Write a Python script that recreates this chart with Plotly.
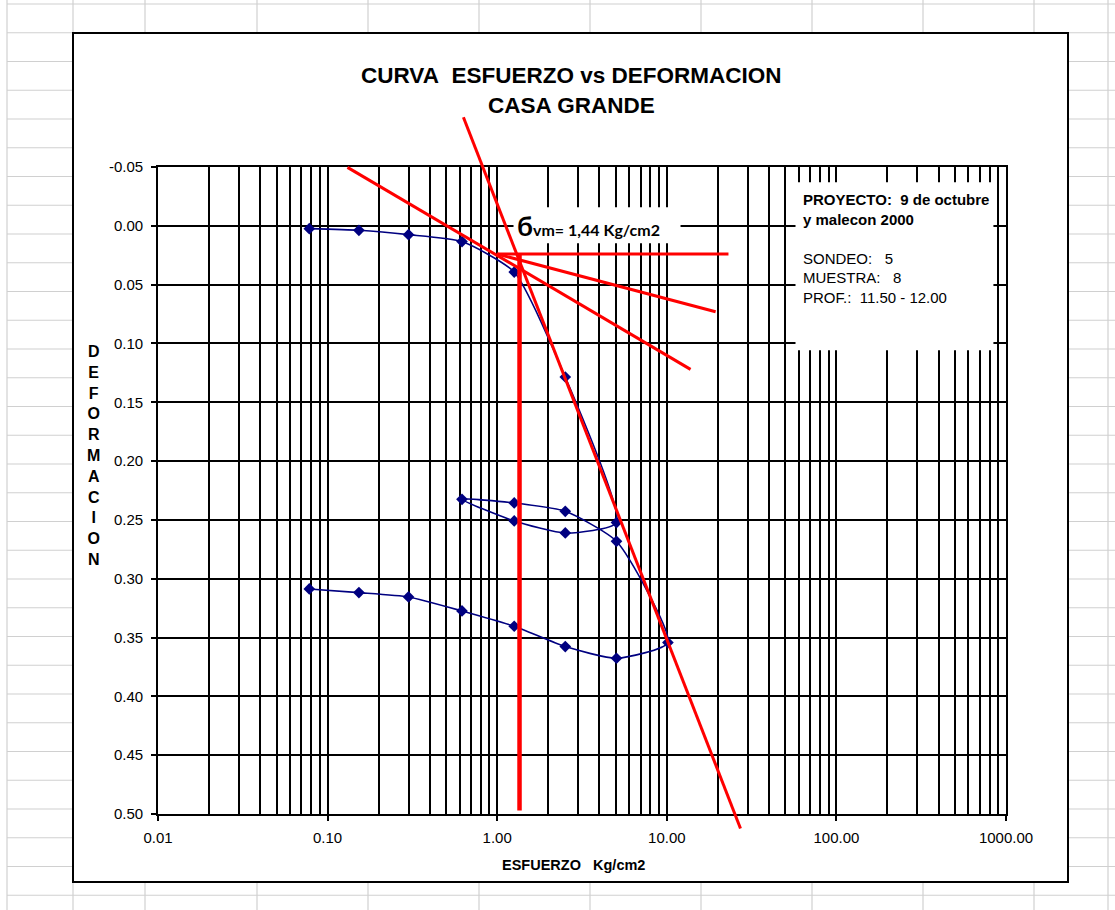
import math
import plotly.graph_objects as go

# ---------------- data ----------------
stress = [0.078, 0.153, 0.30, 0.62, 1.26, 2.52, 5.05, 2.52, 1.26, 0.62, 1.26,
          2.52, 5.05, 10.15, 5.05, 2.52, 1.26, 0.62, 0.30, 0.153, 0.078]
deformation = [0.0024, 0.0038, 0.0075, 0.0134, 0.0393, 0.1285, 0.2523, 0.2611,
               0.2509, 0.2325, 0.2356, 0.2427, 0.2682, 0.3543, 0.3676, 0.3577,
               0.3404, 0.3274, 0.3155, 0.3118, 0.3087]

x_tick_vals = [0.01, 0.1, 1, 10, 100, 1000]
x_tick_text = ["0.01", "0.10", "1.00", "10.00", "100.00", "1000.00"]
y_tick_vals = [-0.05, 0.00, 0.05, 0.10, 0.15, 0.20, 0.25, 0.30, 0.35, 0.40, 0.45, 0.50]
y_tick_text = ["-0.05", "0.00", "0.05", "0.10", "0.15", "0.20", "0.25", "0.30",
               "0.35", "0.40", "0.45", "0.50"]
x_minor_vals = [m * 10.0 ** e for e in range(-2, 3) for m in range(2, 10)]

# Casagrande construction lines (data units: stress, deformation)
virgin_x, virgin_y = [0.632, 27.2], [-0.0923, 0.5123]
tangent_x, tangent_y = [0.131, 13.8], [-0.0497, 0.122]
horiz_x, horiz_y = [1.0, 23.1], [0.024, 0.024]
bisector_x, bisector_y = [1.0, 19.4], [0.024, 0.073]
sigma_x, sigma_y = [1.354, 1.354], [0.024, 0.497]

title_lines = ["CURVA\u00a0 ESFUERZO vs DEFORMACION", "CASA GRANDE"]
x_title = "ESFUERZO\u00a0\u00a0\u00a0Kg/cm2"
y_title = "DEFORMACION"
sigma_text = "vm= 1,44 Kg/cm2"
info_bold = ["PROYECTO:\u00a0 9 de octubre", "y malecon 2000"]
info_plain = ["SONDEO:\u00a0\u00a0 5", "MUESTRA:\u00a0\u00a0 8", "PROF.:\u00a0 11.50 - 12.00"]

# ---------------- geometry ----------------
W, H = 1115, 910
L, R, T, B = 158, 109, 167, 96
PW, PH = W - L - R, H - T - B
X_RANGE = [-2, 3]
Y_RANGE = [0.50, -0.05]


def dx(v):
    return (math.log10(v) - X_RANGE[0]) / (X_RANGE[1] - X_RANGE[0])


def dy(v):
    return (v - Y_RANGE[0]) / (Y_RANGE[1] - Y_RANGE[0])


def px(x):
    return (x - L) / PW


def py(y):
    return (H - B - y) / PH


FONT = "Liberation Sans, Arial, sans-serif"
shapes = []

# spreadsheet background grid
GRAY = "#d0d0d0"
cols = [7, 73, 145, 257, 368, 479, 590, 701, 812, 923, 1034, 1108]
rows = [4 + 28.75 * i for i in range(32)]
for c in cols:
    shapes.append(dict(type="line", xref="paper", yref="paper", x0=px(c), x1=px(c),
                       y0=py(0), y1=py(H), line=dict(color=GRAY, width=1.2), layer="below"))
for r in rows:
    shapes.append(dict(type="line", xref="paper", yref="paper", x0=px(7), x1=px(W),
                       y0=py(r), y1=py(r), line=dict(color=GRAY, width=1.2), layer="below"))
# chart area
shapes.append(dict(type="rect", xref="paper", yref="paper", x0=px(73), x1=px(1068),
                   y0=py(882), y1=py(33), fillcolor="white",
                   line=dict(color="black", width=2), layer="below"))

# white label boxes over the grid
shapes.append(dict(type="rect", xref="x domain", yref="y domain",
                   x0=dx(57.4), x1=dx(843), y0=dy(0.1058), y1=dy(-0.037),
                   fillcolor="white", line=dict(width=0), layer="above"))
shapes.append(dict(type="rect", xref="x domain", yref="y domain",
                   x0=dx(1.248), x1=dx(12.05), y0=dy(0.0149), y1=dy(-0.0157),
                   fillcolor="white", line=dict(width=0), layer="above"))

# red construction lines
for xs, ys, wdt in [(virgin_x, virgin_y, 3), (tangent_x, tangent_y, 3),
                    (horiz_x, horiz_y, 3), (bisector_x, bisector_y, 3),
                    (sigma_x, sigma_y, 4.5)]:
    shapes.append(dict(type="line", xref="x domain", yref="y domain",
                       x0=dx(xs[0]), x1=dx(xs[1]), y0=dy(ys[0]), y1=dy(ys[1]),
                       line=dict(color="#ff0000", width=wdt), layer="above"))

fig = go.Figure()
fig.add_trace(go.Scatter(
    x=stress, y=deformation, mode="lines+markers",
    line=dict(color="#000080", width=1.6, shape="spline", smoothing=0.55),
    marker=dict(symbol="diamond", size=9, color="#000080"),
    showlegend=False, hoverinfo="skip"))

annotations = [
    dict(text="<b>%s</b>" % title_lines[0], xref="paper", yref="paper",
         x=px(571), y=py(76), xanchor="center", yanchor="middle", showarrow=False,
         font=dict(family=FONT, size=22.5, color="black")),
    dict(text="<b>%s</b>" % title_lines[1], xref="paper", yref="paper",
         x=px(571), y=py(106), xanchor="center", yanchor="middle", showarrow=False,
         font=dict(family=FONT, size=22.5, color="black")),
    dict(text="<b>%s</b>" % x_title, xref="paper", yref="paper",
         x=px(573), y=py(865), xanchor="center", yanchor="middle", showarrow=False,
         font=dict(family=FONT, size=14.5, color="black")),
    dict(text="<b>%s</b>" % "<br>".join(list(y_title)), xref="paper", yref="paper",
         x=px(93), y=py(455), xanchor="center", yanchor="middle", showarrow=False,
         font=dict(family=FONT, size=16, color="black")),
    dict(text='<b><span style="font-size:27px">б</span>' + sigma_text + '</b>',
         xref="x domain", yref="y domain", x=dx(3.45), y=dy(0.0),
         showarrow=False, font=dict(family="Lato, Noto Sans, sans-serif", size=16, color="black"),
         xanchor="center", yanchor="middle"),
    dict(text="<b>%s<br>%s</b><br><br>%s" % (info_bold[0], info_bold[1], "<br>".join(info_plain)),
         xref="x domain", yref="y domain", x=dx(62.2), y=dy(-0.031),
         xanchor="left", yanchor="top", align="left", showarrow=False,
         font=dict(family=FONT, size=15, color="black")),
]

fig.update_layout(
    width=W, height=H, margin=dict(l=L, r=R, t=T, b=B, autoexpand=False),
    paper_bgcolor="white", plot_bgcolor="white",
    shapes=shapes, annotations=annotations, showlegend=False,
    xaxis=dict(type="log", range=X_RANGE, tickmode="array", tickvals=x_tick_vals,
               ticktext=x_tick_text, ticks="outside", ticklen=5, tickwidth=1.5,
               tickcolor="black", showgrid=True, gridcolor="black", gridwidth=1.7,
               showline=True, linecolor="black", linewidth=1.7, mirror=True,
               zeroline=False, tickfont=dict(family=FONT, size=15, color="black"),
               ticklabelstandoff=4,
               minor=dict(tickvals=x_minor_vals, showgrid=True, gridcolor="black",
                          gridwidth=1.7, ticks="")),
    yaxis=dict(range=Y_RANGE, tickmode="array", tickvals=y_tick_vals,
               ticktext=y_tick_text, ticks="outside", ticklen=5, tickwidth=1.5,
               tickcolor="black", showgrid=True, gridcolor="black", gridwidth=1.7,
               showline=True, linecolor="black", linewidth=1.7, mirror=True,
               zeroline=False, tickfont=dict(family=FONT, size=15, color="black"),
               ticklabelstandoff=5),
)

fig.write_html("out.html")
